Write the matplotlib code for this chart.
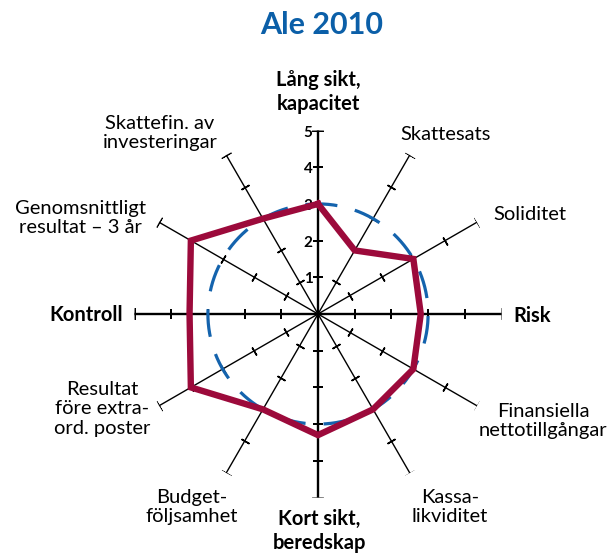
import numpy as np
import matplotlib.pyplot as plt

plt.rcParams['font.family'] = ['Lato', 'DejaVu Sans']
plt.rcParams['lines.scale_dashes'] = False

# the twelve spokes, clockwise from the top
labels = ['Lång sikt,\nkapacitet', 'Skattesats', 'Soliditet', 'Risk',
          'Finansiella\nnettotillgångar', 'Kassa-\nlikviditet', 'Kort sikt,\nberedskap',
          'Budget-\nföljsamhet', 'Resultat\nföre extra-\nord. poster', 'Kontroll',
          'Genomsnittligt\nresultat – 3 år', 'Skattefin. av\ninvesteringar']
main_axis = [True, False, False, True, False, False, True, False, False, True, False, False]
values = [3.0, 2.0, 3.0, 2.8, 3.0, 3.0, 3.3, 3.0, 4.0, 3.5, 4.0, 3.0]
reference = 3.0
scale_ticks = [1, 2, 3, 4, 5]

# where the spoke labels sit (pixel centres, y from top)
label_pos = [(318, 92), (446, 135), (530, 215), (513, 316), (543, 421), (450, 507),
             (319, 531), (192, 507), (102, 409), (123, 315), (80, 218), (160, 133)]
label_ha = ['center', 'center', 'center', 'left', 'center', 'center',
            'center', 'center', 'center', 'right', 'center', 'center']

red = '#9c0a3b'
blue = '#1463ad'

W, H = 612, 554
fig = plt.figure(figsize=(W / 100, H / 100), dpi=100)
R = 183.5  # px for r = 5
cx, cy = 318, 314
ax = fig.add_axes([(cx - R) / W, (H - cy - R) / H, 2 * R / W, 2 * R / H], projection='polar')
ax.set_theta_zero_location('N')
ax.set_theta_direction(-1)

n = len(labels)
angles = np.deg2rad(np.arange(n) * 360 / n)

# spokes with ticks and end caps
for a, main in zip(angles, main_axis):
    lw = 1.7 if main else 1.0
    ax.plot([a, a], [0, scale_ticks[-1]], color='black', lw=lw, zorder=1)
    rot = 90 - np.rad2deg(a)
    ax.plot([a] * 4, scale_ticks[:-1], ls='none', marker=(2, 2, rot),
            ms=6.5, mew=1.1, color='black', zorder=1)
    ax.plot([a], [scale_ticks[-1]], ls='none', marker=(2, 2, rot),
            ms=8, mew=1.1, color='black', zorder=1)

# scale numbers on the top spoke
for k in scale_ticks:
    ax.annotate(str(k), xy=(0, k), xytext=(-4, -1.5), textcoords='offset points',
                ha='right', va='center', fontsize=11, fontweight='bold')

# reference circle
theta = np.linspace(0, 2 * np.pi, 400)
ax.plot(theta, np.full_like(theta, reference), color=blue, lw=2.3,
        ls=(6, (20, 13)), zorder=2)

# the municipality's profile
ax.plot(np.append(angles, angles[0]), values + values[:1], color=red, lw=4.6,
        solid_joinstyle='miter', zorder=3)

ax.set_ylim(0, 5)
ax.axis('off')

for lab, (x, y), ha, main in zip(labels, label_pos, label_ha, main_axis):
    fig.text(x / W, 1 - y / H, lab, ha=ha, va='center', multialignment='center',
             fontsize=14.5, fontweight='bold' if main else 'normal',
             linespacing=1.2, color='black')

fig.text(322 / W, 1 - 25 / H, 'Ale 2010', ha='center', va='center',
         fontsize=22, fontweight='bold', color='#0b5fa8')

fig.savefig('out.png', dpi=100)
